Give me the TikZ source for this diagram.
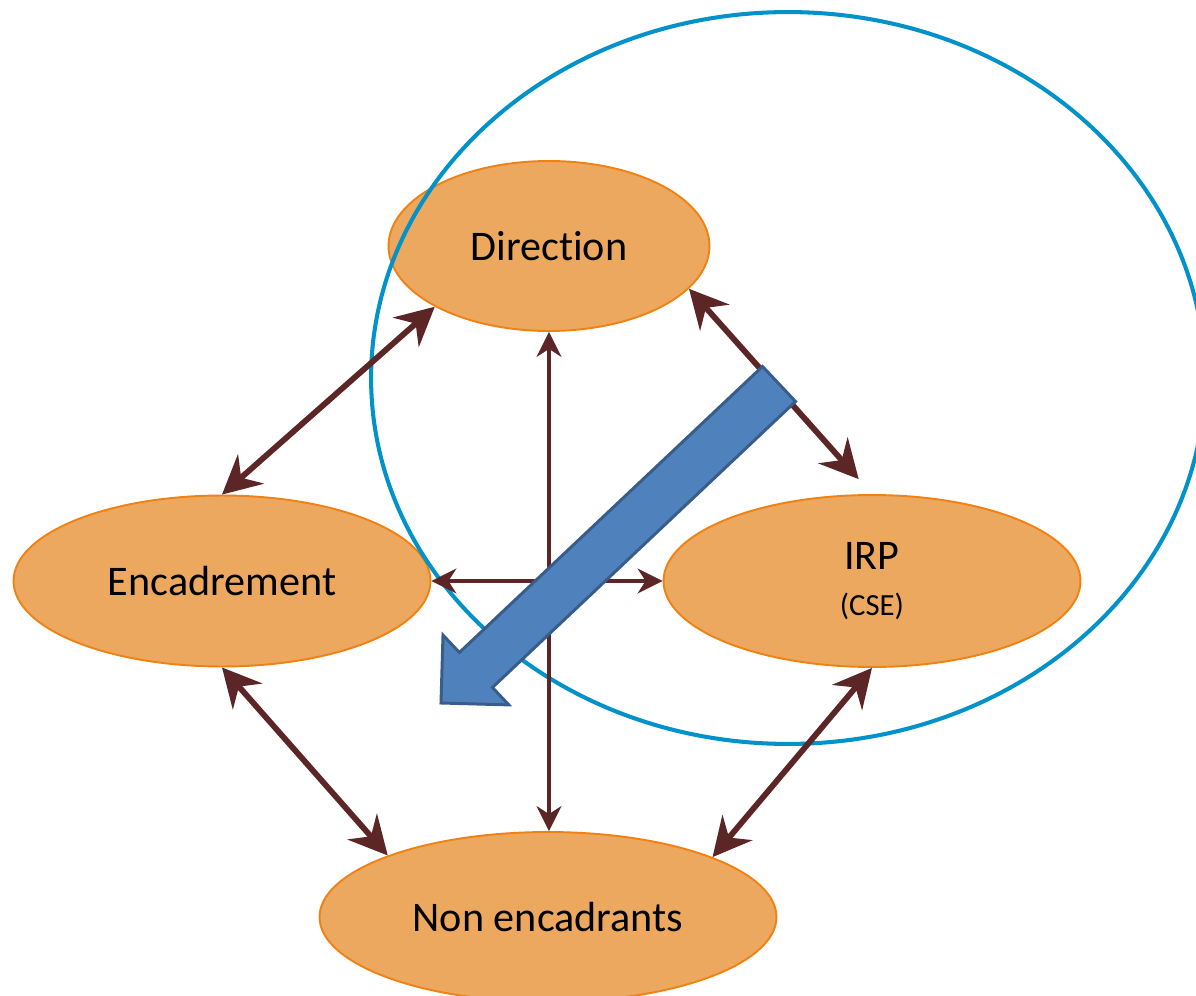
\documentclass[tikz,border=0pt]{standalone}
\usepackage{fontspec}
\setmainfont[Ligatures=CommonOff]{Carlito}
\usetikzlibrary{shapes.geometric, arrows.meta}

\definecolor{rolefill}{RGB}{237,168,96}
\definecolor{roleline}{RGB}{240,130,20}
\definecolor{linkcol}{RGB}{92,38,38}
\definecolor{ringcol}{RGB}{0,146,200}
\definecolor{bigfill}{RGB}{79,129,189}
\definecolor{bigline}{RGB}{56,93,138}

\tikzset{
    role/.style={ellipse, fill=rolefill, draw=roleline, line width=1.1pt, inner sep=0pt, font=\fontsize{24}{28}\selectfont},
    link/.style={draw=linkcol, line width=3.3pt, {Stealth[length=7.7mm, width=7.8mm, inset=2.6mm]}-{Stealth[length=7.7mm, width=7.8mm, inset=2.6mm]}},
    thinlink/.style={draw=linkcol, line width=1.8pt, {Stealth[length=5mm, width=5mm, inset=1.6mm]}-{Stealth[length=5mm, width=5mm, inset=1.6mm]}}
}

\begin{document}
\begin{tikzpicture}[x=0.02cm, y=-0.02cm]
    \fill[white] (0,0) rectangle (1196,996);
    \clip (0,0) rectangle (1196,996);

    \node[role, minimum width=6.42cm, minimum height=3.4cm] (D) at (549,246) {Direction};
    \node[role, minimum width=8.34cm, minimum height=3.42cm] (E) at (222,581) {Encadrement};
    \node[role, minimum width=8.34cm, minimum height=3.44cm, align=center] (R) at (872,581) {IRP\\[-2pt]{\fontsize{17.5}{21}\selectfont (CSE)}};
    \node[role, minimum width=9.14cm, minimum height=3.4cm] (N) at (548,917) {Non encadrants};

    % ring round direction and IRP
    \draw[ringcol, line width=2.3pt] (788,378) ellipse [x radius=8.34cm, y radius=7.32cm];

    \draw[link] (D.208.5) -- (E.north);
    \draw[link, shorten >=0.4cm] (D.-17) -- (R.north);
    \draw[link] (E.south) -- (N.159);
    \draw[link] (R.south) -- (N.20);

    \draw[thinlink] (D.south) -- (D.south |- N.north);
    \draw[thinlink] (E.east) -- (R.west);

    % big arrow
    \coordinate (S1) at (795.5,401.5);
    \coordinate (S2) at (492.4,687.5);
    \coordinate (S3) at (508.8,704.9);
    \coordinate (T) at (441,703);
    \coordinate (S5) at (443.0,635.1);
    \coordinate (S6) at (459.4,652.5);
    \coordinate (S7) at (762.5,366.5);
    \draw[fill=bigfill, draw=bigline, line width=1.7pt, line join=miter]
        (S1) -- (S2) -- (S3) -- (T) -- (S5) -- (S6) -- (S7) -- cycle;
\end{tikzpicture}
\end{document}
